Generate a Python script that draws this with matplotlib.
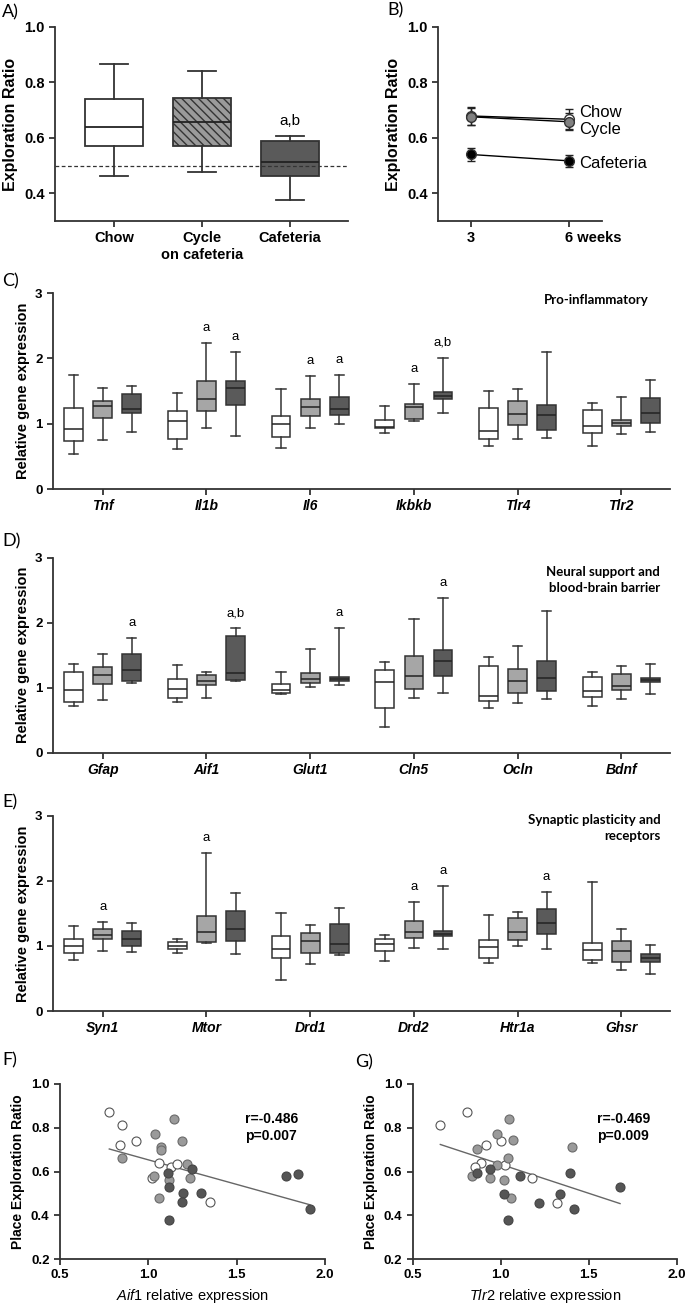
import numpy as np
import matplotlib.pyplot as plt
from matplotlib import transforms

plt.rcParams['font.family'] = ['Liberation Sans', 'DejaVu Sans']
plt.rcParams['mathtext.fontset'] = 'custom'
plt.rcParams['mathtext.rm'] = 'Liberation Sans'
plt.rcParams['mathtext.it'] = 'Liberation Sans:italic'
plt.rcParams['mathtext.bf'] = 'Liberation Sans:bold'
plt.rcParams['hatch.linewidth'] = 1.0

# groups
box_colors = ['white', '#a6a6a6', '#5a5a5a']
edge = '#333333'

# A) exploration ratio: whislo, q1, med, q3, whishi
a_labels = ['Chow', 'Cycle\non cafeteria', 'Cafeteria']
a_stats = [[0.463, 0.571, 0.640, 0.739, 0.868],
           [0.475, 0.569, 0.656, 0.743, 0.841],
           [0.376, 0.462, 0.513, 0.589, 0.608]]
a_chance = 0.5

# B) mean +/- sem by week
b_weeks = [3, 6]
b_names = ['Chow', 'Cycle', 'Cafeteria']
b_means = [[0.679, 0.667], [0.676, 0.658], [0.540, 0.517]]
b_errs = [[0.032, 0.036], [0.03, 0.03], [0.022, 0.021]]
b_label_y = [0.692, 0.630, 0.508]

# C) D) E) gene expression boxes, per gene: chow, cycle, cafeteria
c_genes = ['Tnf', 'Il1b', 'Il6', 'Ikbkb', 'Tlr4', 'Tlr2']
c_stats = [
    [[0.53, 0.73, 0.925, 1.235, 1.745], [0.75, 1.082, 1.276, 1.352, 1.546], [0.872, 1.158, 1.22, 1.449, 1.577]],
    [[0.607, 0.76, 1.04, 1.2, 1.464], [0.939, 1.189, 1.372, 1.658, 2.24], [0.81, 1.28, 1.54, 1.648, 2.10]],
    [[0.628, 0.796, 0.99, 1.117, 1.536], [0.939, 1.117, 1.25, 1.383, 1.735], [0.99, 1.138, 1.23, 1.403, 1.75]],
    [[0.857, 0.935, 0.954, 1.05, 1.27], [1.036, 1.066, 1.25, 1.306, 1.607], [1.163, 1.372, 1.43, 1.49, 2.005]],
    [[0.658, 0.765, 0.893, 1.235, 1.5], [0.77, 0.98, 1.148, 1.347, 1.536], [0.776, 0.91, 1.138, 1.28, 2.097]],
    [[0.663, 0.852, 0.959, 1.204, 1.316], [0.842, 0.96, 1.005, 1.052, 1.414], [0.872, 1.005, 1.158, 1.398, 1.673]],
]
c_marks = [(1, 1, 'a'), (1, 2, 'a'), (2, 1, 'a'), (2, 2, 'a'), (3, 1, 'a'), (3, 2, 'a,b')]

d_genes = ['Gfap', 'Aif1', 'Glut1', 'Cln5', 'Ocln', 'Bdnf']
d_stats = [
    [[0.713, 0.779, 0.969, 1.246, 1.364], [0.815, 1.062, 1.19, 1.313, 1.513], [1.067, 1.103, 1.267, 1.513, 1.769]],
    [[0.779, 0.846, 0.974, 1.128, 1.35], [0.846, 1.036, 1.097, 1.19, 1.236], [1.103, 1.118, 1.22, 1.79, 1.918]],
    [[0.897, 0.913, 0.959, 1.056, 1.246], [1.015, 1.072, 1.128, 1.226, 1.595], [1.036, 1.103, 1.138, 1.164, 1.918]],
    [[0.40, 0.682, 1.087, 1.272, 1.39], [0.836, 0.985, 1.185, 1.482, 2.05], [0.913, 1.185, 1.41, 1.585, 2.374]],
    [[0.682, 0.79, 0.867, 1.338, 1.467], [0.769, 0.923, 1.103, 1.282, 1.641], [0.826, 0.954, 1.154, 1.415, 2.18]],
    [[0.723, 0.851, 0.949, 1.164, 1.236], [0.826, 0.959, 1.03, 1.205, 1.328], [0.908, 1.082, 1.113, 1.144, 1.359]],
]
d_marks = [(0, 2, 'a'), (1, 2, 'a,b'), (2, 2, 'a'), (3, 2, 'a')]

e_genes = ['Syn1', 'Mtor', 'Drd1', 'Drd2', 'Htr1a', 'Ghsr']
e_stats = [
    [[0.785, 0.887, 0.995, 1.10, 1.307], [0.923, 1.10, 1.169, 1.256, 1.363], [0.913, 1.0, 1.113, 1.225, 1.348]],
    [[0.887, 0.949, 1.0, 1.061, 1.113], [1.04, 1.066, 1.21, 1.465, 2.43], [0.882, 1.082, 1.261, 1.537, 1.82]],
    [[0.469, 0.821, 0.959, 1.159, 1.51], [0.72, 0.887, 1.072, 1.205, 1.317], [0.862, 0.898, 1.031, 1.343, 1.588]],
    [[0.77, 0.923, 1.026, 1.107, 1.164], [0.964, 1.128, 1.21, 1.379, 1.67], [0.959, 1.148, 1.19, 1.235, 1.92]],
    [[0.734, 0.821, 0.985, 1.092, 1.47], [1.0, 1.087, 1.21, 1.435, 1.52], [0.954, 1.184, 1.353, 1.563, 1.829]],
    [[0.744, 0.785, 0.939, 1.041, 1.977], [0.633, 0.749, 0.923, 1.082, 1.266], [0.571, 0.749, 0.816, 0.872, 1.01]],
]
e_marks = [(0, 1, 'a'), (1, 1, 'a'), (3, 1, 'a'), (3, 2, 'a'), (4, 2, 'a')]

# F) Aif1 vs place exploration ratio
f_chow_x = [0.779, 0.851, 0.840, 0.930, 1.060, 1.128, 1.160, 1.019, 1.349]
f_chow_y = [0.870, 0.811, 0.721, 0.741, 0.640, 0.622, 0.633, 0.569, 0.459]
f_cycle_x = [1.145, 1.040, 1.072, 1.072, 1.189, 0.851, 1.221, 1.032, 1.119, 1.238, 1.060]
f_cycle_y = [0.841, 0.773, 0.713, 0.698, 0.741, 0.660, 0.633, 0.581, 0.561, 0.570, 0.480]
f_caf_x = [1.109, 1.249, 1.119, 1.196, 1.298, 1.189, 1.119, 1.777, 1.845, 1.915]
f_caf_y = [0.591, 0.610, 0.529, 0.500, 0.500, 0.459, 0.378, 0.581, 0.590, 0.428]
f_stat = 'r=-0.486\np=0.007'

# G) Tlr2 vs place exploration ratio
g_chow_x = [0.657, 0.807, 0.917, 1.0, 0.888, 0.856, 1.027, 1.178, 1.320]
g_chow_y = [0.812, 0.872, 0.721, 0.740, 0.640, 0.621, 0.632, 0.569, 0.458]
g_cycle_x = [1.049, 0.977, 0.867, 1.068, 1.407, 1.040, 0.977, 0.835, 0.938, 1.019, 1.059]
g_cycle_y = [0.841, 0.773, 0.702, 0.742, 0.711, 0.661, 0.632, 0.580, 0.569, 0.560, 0.479]
g_caf_x = [0.867, 0.938, 1.110, 1.019, 1.220, 1.339, 1.040, 1.396, 1.419, 1.678]
g_caf_y = [0.591, 0.611, 0.580, 0.499, 0.458, 0.499, 0.377, 0.591, 0.428, 0.528]
g_stat = 'r=-0.469\np=0.009'

W, H = 685, 1304
fig = plt.figure(figsize=(W / 100, H / 100), dpi=100)


def px_axes(left, top, right, bottom):
    return fig.add_axes([left / W, 1 - bottom / H, (right - left) / W, (bottom - top) / H])


def style(ax, size=10):
    for s in ['top', 'right']:
        ax.spines[s].set_visible(False)
    for s in ['left', 'bottom']:
        ax.spines[s].set_color(edge)
        ax.spines[s].set_linewidth(1.3)
    ax.tick_params(colors=edge, width=1.3, length=4, labelsize=size, labelcolor='black')
    for lab in ax.get_yticklabels():
        lab.set_fontweight('bold')


def to_stats(s):
    return dict(whislo=s[0], q1=s[1], med=s[2], q3=s[3], whishi=s[4], fliers=[])


# ---- A
axA = px_axes(55, 27, 348, 221)
bA = axA.bxp([to_stats(s) for s in a_stats], positions=[1, 2, 3], widths=0.65,
             patch_artist=True, showfliers=False,
             boxprops=dict(edgecolor=edge, linewidth=1.3),
             medianprops=dict(color='#222222', linewidth=1.3),
             whiskerprops=dict(color=edge, linewidth=1.3),
             capprops=dict(color=edge, linewidth=1.3))
for patch, col in zip(bA['boxes'], ['white', '#9a9a9a', '#5a5a5a']):
    patch.set_facecolor(col)
bA['boxes'][1].set_hatch('\\\\\\\\')
axA.axhline(a_chance, color='#333333', lw=0.9, ls=(0, (3, 2)))
axA.text(3, a_stats[2][4] + 0.054, 'a,b', ha='center', va='center', fontsize=11)
axA.set_xlim(0.33, 3.66)
axA.set_ylim(0.3, 1.0)
axA.set_yticks([0.4, 0.6, 0.8, 1.0])
axA.set_xticks([1, 2, 3], a_labels)
axA.set_ylabel('Exploration Ratio', fontsize=11.5, fontweight='bold')
style(axA, 10.5)
for lab in axA.get_xticklabels():
    lab.set_fontweight('bold')
    lab.set_fontsize(10.5)

# ---- B
axB = px_axes(438, 27, 602, 221)
b_faces = ['white', '#808080', 'black']
for m, e, fc in zip(b_means, b_errs, b_faces):
    axB.errorbar(b_weeks, m, yerr=e, color='black', lw=1, capsize=3, capthick=1,
                 marker='o', ms=7, mfc=fc, mec='#333333', ecolor='#222222', zorder=3)
for name, ly in zip(b_names, b_label_y):
    axB.text(6.3, ly, name, fontsize=12, va='center')
axB.set_xlim(2, 7)
axB.set_ylim(0.3, 1.0)
axB.set_yticks([0.4, 0.6, 0.8, 1.0])
axB.set_xticks(b_weeks, ['3', '6 weeks'])
axB.set_ylabel('Exploration Ratio', fontsize=11.5, fontweight='bold')
style(axB, 10.5)
for lab in axB.get_xticklabels():
    lab.set_fontweight('bold')
    lab.set_fontsize(10.5)
wk = axB.get_xticklabels()[1]
wk.set_horizontalalignment('left')
wk.set_transform(wk.get_transform() + transforms.ScaledTranslation(-0.04, 0, fig.dpi_scale_trans))


# ---- C, D, E
def gene_panel(ax, genes, stats, marks, title, tx, ty):
    offs = [-0.28, 0.0, 0.28]
    flat, pos, cols = [], [], []
    for gi, row in enumerate(stats):
        for k, s in enumerate(row):
            flat.append(to_stats(s))
            pos.append(gi + offs[k])
            cols.append(box_colors[k])
    bp = ax.bxp(flat, positions=pos, widths=0.18, patch_artist=True, showfliers=False,
                boxprops=dict(edgecolor=edge, linewidth=1.1),
                medianprops=dict(color='#222222', linewidth=1.1),
                whiskerprops=dict(color=edge, linewidth=1.1),
                capprops=dict(color=edge, linewidth=1.1))
    for patch, col in zip(bp['boxes'], cols):
        patch.set_facecolor(col)
    for gi, k, txt in marks:
        ax.text(gi + offs[k], stats[gi][k][4] + 0.23, txt, ha='center', va='center', fontsize=9.5)
    ax.set_xlim(-0.48, 5.47)
    ax.set_ylim(0, 3)
    ax.set_yticks([0, 1, 2, 3])
    ax.set_xticks(range(len(genes)), genes)
    ax.set_ylabel('Relative gene expression', fontsize=10.5, fontweight='bold')
    style(ax, 9.5)
    for lab in ax.get_xticklabels():
        lab.set_fontweight('bold')
        lab.set_fontstyle('italic')
        lab.set_fontsize(10)
    ax.text(tx, ty, title, transform=ax.transAxes, ha='right', va='center',
            fontsize=9.5, fontweight='bold', family=['Lato', 'DejaVu Sans'], linespacing=1.4)


axC = px_axes(53, 293, 670, 489)
gene_panel(axC, c_genes, c_stats, c_marks, 'Pro-inflammatory', 0.965, 0.962)
axD = px_axes(53, 557.7, 670, 752.7)
gene_panel(axD, d_genes, d_stats, d_marks, 'Neural support and\nblood-brain barrier', 0.984, 0.886)
axE = px_axes(53, 815.7, 670, 1011)
gene_panel(axE, e_genes, e_stats, e_marks, 'Synaptic plasticity and\nreceptors', 0.984, 0.938)


# ---- F, G
def scatter_panel(ax, cx, cy, yx, yy, kx, ky, stat, gene):
    ax.scatter(cx, cy, s=42, c='white', edgecolors='#555555', linewidths=0.8, zorder=3)
    ax.scatter(yx, yy, s=42, c='#9a9a9a', edgecolors='#6a6a6a', linewidths=0.8, zorder=3)
    ax.scatter(kx, ky, s=42, c='#555555', edgecolors='#444444', linewidths=0.8, zorder=3)
    allx = np.array(cx + yx + kx)
    ally = np.array(cy + yy + ky)
    k, b0 = np.polyfit(allx, ally, 1)
    xs = np.array([allx.min(), allx.max()])
    ax.plot(xs, k * xs + b0, color='#666666', lw=1, zorder=2)
    ax.text(1.545, 0.87, stat, fontsize=10, fontweight='bold', va='top')
    ax.set_xlim(0.5, 2.0)
    ax.set_ylim(0.2, 1.0)
    ax.set_xticks([0.5, 1.0, 1.5, 2.0])
    ax.set_yticks([0.2, 0.4, 0.6, 0.8, 1.0])
    ax.set_ylabel('Place Exploration Ratio', fontsize=10, fontweight='bold')
    ax.set_xlabel(r'$\mathit{' + gene + '}$ relative expression', fontsize=10.5)
    style(ax, 9.5)
    for lab in ax.get_xticklabels():
        lab.set_fontweight('bold')


axF = px_axes(60, 1084, 325, 1259)
scatter_panel(axF, f_chow_x, f_chow_y, f_cycle_x, f_cycle_y, f_caf_x, f_caf_y, f_stat, 'Aif1')
axG = px_axes(412.7, 1084, 676.7, 1259)
scatter_panel(axG, g_chow_x, g_chow_y, g_cycle_x, g_cycle_y, g_caf_x, g_caf_y, g_stat, 'Tlr2')

# panel letters
for txt, x, y in [('A)', 2, 12), ('B)', 387, 10), ('C)', 2, 281), ('D)', 2, 541),
                  ('E)', 2, 802), ('F)', 2, 1060), ('G)', 355, 1062)]:
    fig.text(x / W, 1 - y / H, txt, fontsize=13, va='center', ha='left',
             family=['Lato', 'DejaVu Sans'])

fig.savefig('out.png', dpi=100)
